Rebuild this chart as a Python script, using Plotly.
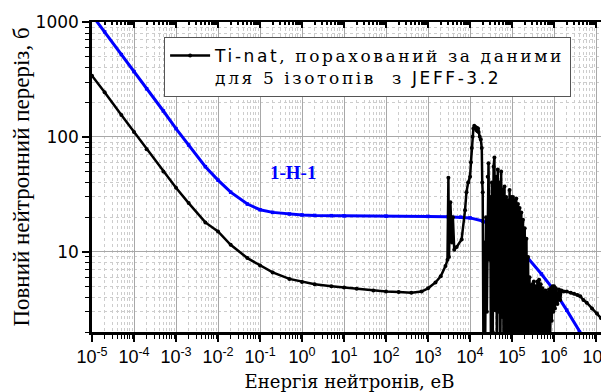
import plotly.graph_objects as go

# ---------------- data ----------------
h_energy = [1e-5, 2e-5, 5e-5, 1e-4, 2e-4, 5e-4, 1e-3, 2e-3, 5e-3, 1e-2, 2e-2, 5e-2,
            0.1, 0.2, 0.5, 1, 2, 5, 10, 100, 1e3, 3e3, 6e3, 1e4, 2e4, 5e4, 1e5,
            2e5, 5e5, 1e6, 2e6, 4e6, 6e6]
h_sigma = [1150, 820, 520, 370, 262, 168, 118, 85, 55, 42, 33, 26,
           23.2, 22, 21.3, 20.9, 20.7, 20.6, 20.5, 20.4, 20.3, 20.2, 20.0, 19.7, 18.5,
           15.5, 12.3, 9.5, 6.4, 4.6, 3.1, 2.0, 1.6]

ti_energy = [
    1e-5, 2e-5, 5e-5, 1e-4, 2e-4, 5e-4, 1e-3, 2e-3, 5e-3, 1e-2, 2e-2, 5e-2,
    0.1, 0.2, 0.5, 1, 2, 5, 10, 20, 50, 100, 200, 400, 700, 1000, 1500,
    2000, 2600, 2900, 3050, 3150, 3400, 3700, 3900, 4200, 4800, 6300, 7600,
    8200, 9000, 1.0e4, 1.05e4, 1.1e4, 1.15e4, 1.2e4, 1.26e4, 1.3e4, 1.35e4, 1.4e4,
    1.45e4, 1.5e4, 1.55e4, 1.6e4, 1.7e4, 1.8e4, 1.9e4, 1.95e4,
    2.00e4, 2.09e4, 2.19e4, 2.29e4, 2.40e4, 2.51e4, 2.63e4, 2.75e4, 2.88e4, 3.02e4,
    3.16e4, 3.31e4, 3.47e4, 3.63e4, 3.80e4, 3.98e4, 4.17e4, 4.37e4, 4.57e4, 4.79e4,
    5.01e4, 5.25e4, 5.50e4, 5.75e4, 6.03e4, 6.31e4, 6.61e4, 6.92e4, 7.24e4, 7.59e4,
    7.94e4, 8.32e4, 8.71e4, 9.12e4, 9.55e4, 1.00e5, 1.05e5, 1.10e5, 1.15e5, 1.20e5,
    1.26e5, 1.32e5, 1.38e5, 1.45e5, 1.51e5, 1.58e5, 1.66e5, 1.74e5, 1.82e5, 1.91e5,
    2.00e5, 2.1e5, 2.2e5, 2.3e5, 2.4e5, 2.5e5, 2.6e5, 2.7e5, 2.8e5, 2.9e5,
    3.0e5, 3.15e5, 3.3e5, 3.45e5, 3.6e5, 3.8e5, 4.0e5, 4.2e5, 4.4e5, 4.6e5,
    4.8e5, 5.0e5, 5.25e5, 5.5e5, 5.75e5, 6.0e5, 6.3e5, 6.6e5, 6.9e5, 7.2e5,
    7.6e5, 8.0e5, 8.4e5, 8.8e5, 9.2e5, 9.6e5, 1.0e6, 1.05e6, 1.1e6, 1.2e6,
    1.3e6, 1.4e6, 1.5e6, 1.7e6, 2.0e6, 2.5e6, 3.0e6, 3.6e6, 4.2e6, 5.0e6,
    6.0e6, 8.0e6, 1.05e7, 1.3e7, 1.5e7, 1.75e7]
ti_sigma = [
    340, 245, 155, 110, 78, 50, 36, 26.5, 18, 15, 11.5, 8.8,
    7.6, 6.6, 5.8, 5.45, 5.2, 5.0, 4.87, 4.75, 4.6, 4.5, 4.45, 4.4, 4.5, 4.8, 5.4,
    6.1, 7.5, 8.5, 44, 9, 27, 12, 20, 10.4, 11, 12.8, 23,
    33, 40, 45, 60, 80, 100, 118, 125, 120, 122, 115,
    120, 112, 118, 110, 100, 95, 80, 40,
    33, 1.0, 12, 1.5, 20, 3, 45, 59, 8.5, 30,
    1.0, 40, 2, 55, 66, 3.1, 45, 1.0, 52, 3,
    40, 0.8, 50, 2.7, 35, 0.8, 37, 1.0, 30, 0.8,
    28, 1.2, 34.5, 0.8, 30, 1.0, 30, 0.8, 28, 1.2,
    29, 0.8, 26, 1.0, 24, 0.8, 22, 1.0, 19, 0.8,
    16, 1.0, 13, 0.9, 9, 1.0, 6, 1.2, 5, 0.9,
    5.2, 1.0, 5.5, 1.5, 5.0, 0.9, 5.5, 1.2, 5.7, 1.0,
    5.2, 2.0, 4.8, 1.0, 4.5, 1.5, 4.6, 1.2, 4.4, 2.0,
    4.7, 1.5, 4.8, 2.5, 5.0, 3.0, 5.0, 3.2, 4.8, 3.5,
    4.7, 3.8, 4.6, 4.5, 4.5, 4.4, 4.3, 4.2, 4.1, 3.8,
    3.6, 3.2, 2.9, 2.65, 2.5, 2.2]

x_tick_vals = [1e-5, 1e-4, 1e-3, 1e-2, 1e-1, 1e0, 1e1, 1e2, 1e3, 1e4, 1e5, 1e6, 1e7]
x_tick_text = ["10<sup>-5</sup>", "10<sup>-4</sup>", "10<sup>-3</sup>", "10<sup>-2</sup>",
               "10<sup>-1</sup>", "10<sup>0</sup>", "10<sup>1</sup>", "10<sup>2</sup>",
               "10<sup>3</sup>", "10<sup>4</sup>", "10<sup>5</sup>", "10<sup>6</sup>",
               "10<sup>7</sup>"]
y_tick_vals = [10, 100, 1000]
y_tick_text = ["10", "100", "1000"]

SANS = "'DejaVu Sans',Arial"
SERIF = "'DejaVu Serif','Times New Roman'"
LS = "letter-spacing:2.6px"
legend_name = (f'<span style="font-family:{SANS};{LS}">Ti-nat</span>'
               f'<span style="font-family:{SERIF};{LS}">, порахований за даними</span><br>'
               f'<span style="font-family:{SERIF};{LS}">для 5 ізотопів  з </span>'
               f'<span style="font-family:{SANS};{LS}">JEFF-3.2</span>')

X_RANGE = [-5, 7.26]
Y_RANGE = [0.301, 3]

fig = go.Figure()

fig.add_trace(go.Scatter(
    x=h_energy, y=h_sigma, mode="lines+markers",
    line=dict(color="#0000ff", width=3),
    marker=dict(color="#0000ff", size=3.5, symbol="square"),
    showlegend=False, hoverinfo="skip"))

fig.add_trace(go.Scatter(
    x=ti_energy, y=ti_sigma, mode="lines+markers", name=legend_name,
    line=dict(color="black", width=2.5),
    marker=dict(color="black", size=4),
    showlegend=True))

# invisible trace that carries the overlay axes (top / right ticks pointing inwards)
fig.add_trace(go.Scatter(
    x=h_energy, y=h_sigma, xaxis="x2", yaxis="y2", mode="lines",
    opacity=0, showlegend=False, hoverinfo="skip"))

grid_minor = dict(ticks="outside", ticklen=4, tickcolor="black", tickwidth=1.2,
                  showgrid=True, gridcolor="#cdcdcd", griddash="dot", gridwidth=1, dtick="D1")

fig.update_layout(
    width=601, height=384,
    margin=dict(l=84, r=2, t=14, b=60),
    paper_bgcolor="white", plot_bgcolor="white",
    xaxis=dict(type="log", range=X_RANGE, tickmode="array", tickvals=x_tick_vals,
               ticktext=x_tick_text, ticklabeloverflow="allow",
               tickfont=dict(family="Liberation Sans, Arial", size=18, color="black"),
               ticks="outside", ticklen=7, tickwidth=2, tickcolor="black",
               showline=True, linecolor="black", linewidth=2.5,
               showgrid=True, gridcolor="#a8a8a8", gridwidth=1,
               minor=grid_minor, zeroline=False, automargin=False,
               title=dict(text="Енергія нейтронів, еВ", standoff=16,
                          font=dict(family=SERIF, size=18, color="black"))),
    yaxis=dict(type="log", range=Y_RANGE, tickmode="array", tickvals=y_tick_vals,
               ticktext=y_tick_text,
               tickfont=dict(family=SANS, size=17, color="black"),
               ticks="outside", ticklen=7, tickwidth=2, tickcolor="black",
               showline=True, linecolor="black", linewidth=2.5,
               showgrid=True, gridcolor="#a8a8a8", gridwidth=1,
               minor=grid_minor, zeroline=False, automargin=False,
               title=dict(text="Повний нейтронний переріз, б", standoff=0,
                          font=dict(family="Liberation Serif, Times New Roman", size=23, color="black"))),
    xaxis2=dict(type="log", range=X_RANGE, overlaying="x", side="top", anchor="y",
                tickmode="array", tickvals=x_tick_vals, showticklabels=False,
                ticks="inside", ticklen=6, tickwidth=2, tickcolor="black",
                showline=True, linecolor="black", linewidth=2, showgrid=False,
                minor=dict(ticks="inside", ticklen=3, tickcolor="black", dtick="D1", showgrid=False),
                zeroline=False),
    yaxis2=dict(type="log", range=Y_RANGE, overlaying="y", side="right", anchor="x",
                tickmode="array", tickvals=y_tick_vals, showticklabels=False,
                ticks="inside", ticklen=6, tickwidth=2, tickcolor="black",
                showline=True, linecolor="black", linewidth=2, showgrid=False,
                minor=dict(ticks="inside", ticklen=3, tickcolor="black", dtick="D1", showgrid=False),
                zeroline=False),
    legend=dict(x=0.14, y=0.952, xanchor="left", yanchor="top",
                bgcolor="white", bordercolor="#555555", borderwidth=1,
                font=dict(family=SERIF, size=17, color="black"),
                valign="top", itemwidth=40, tracegroupgap=0),
    annotations=[dict(x=-0.21, y=1.687, xref="x", yref="y", text="<b>1-H-1</b>",
                      showarrow=False,
                      font=dict(family="Liberation Serif, Times New Roman", size=19, color="#0000ff"))],
)

fig.write_html("out.html")
